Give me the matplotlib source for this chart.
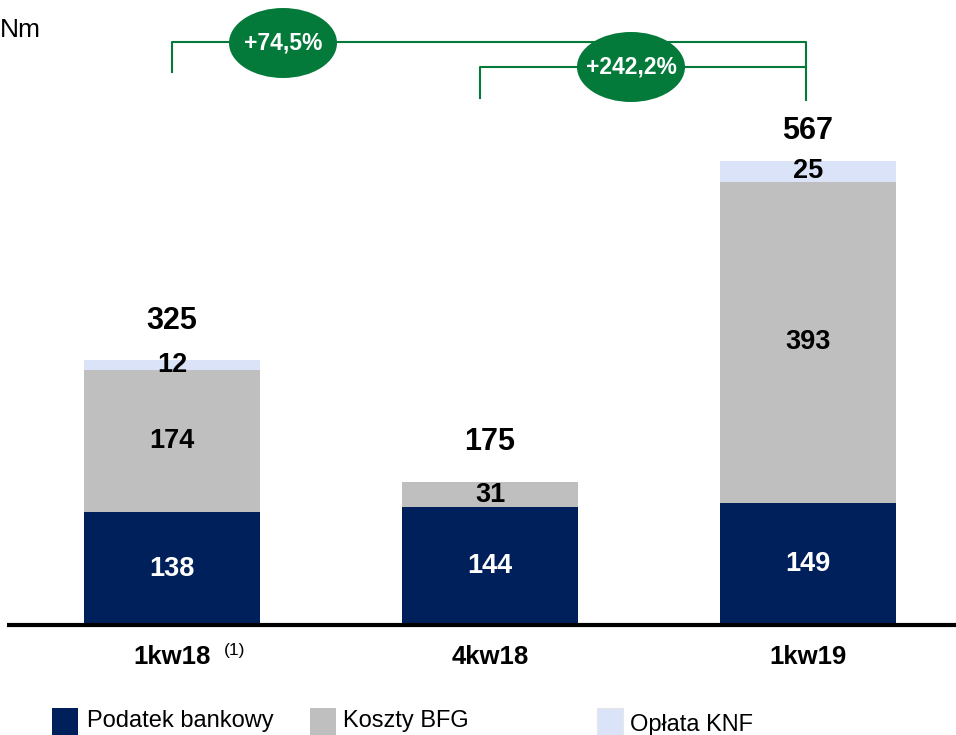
import matplotlib.pyplot as plt
from matplotlib.patches import Ellipse, Rectangle

plt.rcParams["font.family"] = ["Liberation Sans", "DejaVu Sans"]

categories = ["1kw18", "4kw18", "1kw19"]
podatek = [138, 144, 149]
bfg = [174, 31, 393]
knf = [12, 0, 25]
totals = [325, 175, 567]
series_names = ["Podatek bankowy", "Koszty BFG", "Opłata KNF"]
growth_labels = ["+74,5%", "+242,2%"]

NAVY = "#00205B"
GREY = "#BFBFBF"
LIGHT = "#DAE3F8"
GREEN = "#037A3A"

W, H = 956, 735
fig = plt.figure(figsize=(W / 100, H / 100), dpi=100)
ax = fig.add_axes([0, 0, 1, 1])

# pixel mapping: baseline at y=625px, 0.818 px per unit; bar spacing 318 px
base_px, k = 625, 0.818
x0_px, step = 172, 318
ax.set_ylim((base_px - H) / k, base_px / k)
ax.set_xlim(-x0_px / step, (W - x0_px) / step)
ax.axis("off")


def px_x(p):
    return (p - x0_px) / step


def px_y(p):
    return (base_px - p) / k


x = list(range(len(categories)))
width = 176 / step
ax.bar(x, podatek, width, color=NAVY, zorder=2)
bottom2 = podatek
ax.bar(x, bfg, width, bottom=bottom2, color=GREY, zorder=2)
bottom3 = [a + b for a, b in zip(podatek, bfg)]
ax.bar(x, knf, width, bottom=bottom3, color=LIGHT, zorder=2)

# baseline
ax.plot([px_x(7), px_x(W)], [0, 0], color="black", lw=3, zorder=3, solid_capstyle="butt")

total_gap_px = [38, 40, 30]
for i in x:
    ax.text(i, podatek[i] / 2, str(podatek[i]), ha="center", va="center",
            color="white", fontsize=19.5, fontweight="bold", zorder=4)
    ax.text(i, podatek[i] + bfg[i] / 2, str(bfg[i]), ha="center", va="center",
            color="black", fontsize=19.5, fontweight="bold", zorder=4)
    if knf[i]:
        ax.text(i, bottom3[i] + knf[i] / 2, str(knf[i]), ha="center", va="center",
                color="black", fontsize=19.5, fontweight="bold", zorder=4)
    ax.annotate(str(totals[i]), (i, totals[i]), xytext=(0, total_gap_px[i] * 0.72),
                textcoords="offset points", ha="center", va="center",
                color="black", fontsize=22, fontweight="bold", zorder=4)
    ax.text(i, px_y(657), categories[i], ha="center", va="center",
            color="black", fontsize=18.5, fontweight="bold")

ax.text(px_x(235), px_y(650), "(1)", ha="center", va="center", fontsize=12.5)

# growth brackets
lw = 1.5
ax.plot([px_x(172), px_x(172), px_x(806), px_x(806)],
        [px_y(72), px_y(42), px_y(42), px_y(100)], color=GREEN, lw=lw, zorder=1)
ax.plot([px_x(480), px_x(480), px_x(806)],
        [px_y(98), px_y(67), px_y(67)], color=GREEN, lw=lw, zorder=1)
for (cx, cy), lab in zip([(283, 43), (631, 67)], growth_labels):
    ax.add_patch(Ellipse((px_x(cx), px_y(cy)), 108 / step, 70 / k,
                         facecolor=GREEN, edgecolor="none", zorder=5))
    ax.text(px_x(cx), px_y(cy), lab, ha="center", va="center", color="white",
            fontsize=16.5, fontweight="bold", zorder=6)

# unit label
fig.text(0.0, 1 - 30 / H, "Nm", ha="left", va="center", fontsize=19)

# legend
legend_items = [(52, 87, 721, NAVY), (310, 343, 721, GREY), (597, 630, 725, LIGHT)]
for (bx, tx, ty, col), name in zip(legend_items, series_names):
    fig.patches.append(Rectangle((bx / W, 0), 26 / W, 27 / H, transform=fig.transFigure,
                                 facecolor=col, edgecolor="#E6E6E6" if col == LIGHT else "none",
                                 lw=0.8, figure=fig))
    fig.text(tx / W, 1 - ty / H, name, ha="left", va="center", fontsize=17)

fig.savefig("out.png", dpi=100)
